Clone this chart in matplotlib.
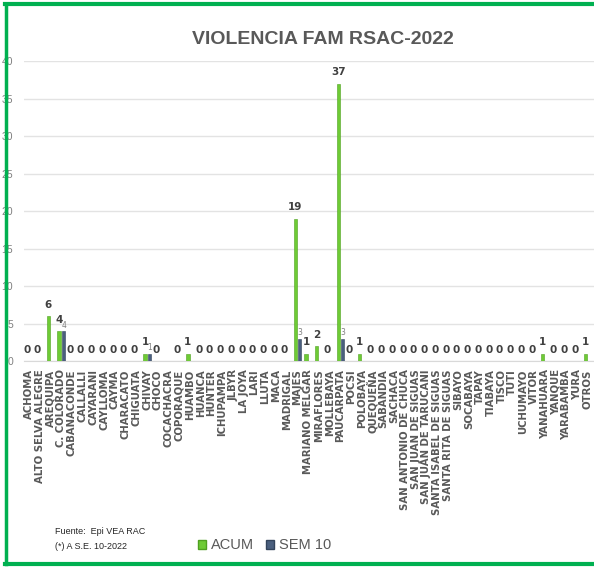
import numpy as np
import matplotlib.pyplot as plt
from matplotlib.lines import Line2D
from matplotlib.patches import Patch

distritos = ['ACHOMA', 'ALTO SELVA ALEGRE', 'AREQUIPA', 'C. COLORADO', 'CABANACONDE',
             'CALLALLI', 'CAYARANI', 'CAYLLOMA', 'CAYMA', 'CHARACATO', 'CHIGUATA',
             'CHIVAY', 'CHOCO', 'COCACHACRA', 'COPORAQUE', 'HUAMBO', 'HUANCA', 'HUNTER',
             'ICHUPAMPA', 'JLBYR', 'LA JOYA', 'LARI', 'LLUTA', 'MACA', 'MADRIGAL', 'MAJES',
             'MARIANO MELGAR', 'MIRAFLORES', 'MOLLEBAYA', 'PAUCARPATA', 'POCSI', 'POLOBAYA',
             'QUEQUEÑA', 'SABANDIA', 'SACHACA', 'SAN ANTONIO DE CHUCA', 'SAN JUAN DE SIGUAS',
             'SAN JUAN DE TARUCANI', 'SANTA ISABEL DE SIGUAS', 'SANTA RITA DE SIGUAS',
             'SIBAYO', 'SOCABAYA', 'TAPAY', 'TIABAYA', 'TISCO', 'TUTI', 'UCHUMAYO', 'VITOR',
             'YANAHUARA', 'YANQUE', 'YARABAMBA', 'YURA', 'OTROS']

# None = sin dato (no lleva etiqueta)
acum = [0, 0, 6, 4, 0, 0, 0, 0, 0, 0, 0, 1, 0, None, 0, 1, 0, 0, 0, 0, 0, 0, 0, 0, 0, 19,
        1, 2, 0, 37, 0, 1, 0, 0, 0, 0, 0, 0, 0, 0, 0, 0, 0, 0, 0, 0, 0, 0, 1, 0, 0, 0, 1]
sem10 = {'C. COLORADO': 4, 'CHIVAY': 1, 'MAJES': 3, 'PAUCARPATA': 3}

verde = '#6ECB35'
azul = '#4A5F7E'
gris = '#595959'
arial = ['Liberation Sans', 'DejaVu Sans']

x = np.arange(len(distritos))
acum_v = np.array([np.nan if v is None else v for v in acum], dtype=float)
sem_v = np.array([sem10.get(d, np.nan) for d in distritos], dtype=float)

fig = plt.figure(figsize=(5.94, 5.67), dpi=100)
ax = fig.add_axes([0.0404, 0.3633, 0.9596, 0.5291])

ax.bar(x - 0.2, np.nan_to_num(acum_v), width=0.3, color=verde, edgecolor='#4FA020', linewidth=0.4, zorder=3)
ax.bar(x + 0.2, np.nan_to_num(sem_v), width=0.3, color=azul, edgecolor='#33445C', linewidth=0.4, zorder=3)

for xi, v in zip(x, acum_v):
    if not np.isnan(v):
        ax.annotate(f'{int(v)}', (xi - 0.2, v), xytext=(0, 4.5), textcoords='offset points',
                    ha='center', va='bottom', fontsize=7.5, fontweight='bold', color='#404040')
for xi, v in zip(x, sem_v):
    if not np.isnan(v):
        ax.annotate(f'{int(v)}', (xi + 0.25, v), xytext=(0, 1), textcoords='offset points',
                    ha='center', va='bottom', fontsize=5.5, color='#7f7f7f')

ax.set_ylim(0, 40)
ax.set_xlim(-0.46, 52.6)
ax.set_yticks(range(0, 41, 5))
ax.yaxis.grid(True, color='#e3e3e3', linewidth=1, zorder=0)
ax.set_axisbelow(True)
for s in ['top', 'right', 'left']:
    ax.spines[s].set_visible(False)
ax.spines['bottom'].set_color('#d9d9d9')
ax.tick_params(axis='y', length=0, pad=8, labelsize=7.5, labelcolor='#7f7f7f')
ax.tick_params(axis='x', length=0, pad=6)
for lab in ax.get_yticklabels():
    lab.set_family(arial)
ax.set_xticks(x)
ax.set_xticklabels(distritos, rotation=90, fontsize=7.3, fontweight='bold', color=gris)

fig.text(0.544, 0.93, 'VIOLENCIA FAM RSAC-2022', ha='center', va='center',
         fontsize=14, fontweight='bold', color=gris, family=arial)

fig.text(0.093, 0.062, 'Fuente:  Epi VEA RAC', fontsize=6.5, color='#262626', family=arial, va='center')
fig.text(0.093, 0.037, '(*) A S.E. 10-2022', fontsize=6.5, color='#262626', family=arial, va='center')

handles = [Patch(facecolor=verde, edgecolor='#4FA020'), Patch(facecolor=azul, edgecolor='#33445C')]
leg = fig.legend(handles, ['ACUM', 'SEM 10'], loc='center', bbox_to_anchor=(0.445, 0.038), ncol=2,
                 frameon=False, handlelength=0.6, handleheight=0.6, handletextpad=0.3, columnspacing=0.8,
                 prop={'family': arial, 'size': 10.5})
for t in leg.get_texts():
    t.set_color(gris)

# marco verde
borde = '#00B050'
fig.add_artist(Line2D([0.008, 1.0], [0.9925, 0.9925], color=borde, linewidth=3, transform=fig.transFigure))
fig.add_artist(Line2D([0.0095, 0.0095], [0.005, 0.9925], color=borde, linewidth=2.5, transform=fig.transFigure))
fig.add_artist(Line2D([0.008, 1.0], [0.006, 0.006], color=borde, linewidth=3, transform=fig.transFigure))

fig.savefig('out.png', dpi=100)
